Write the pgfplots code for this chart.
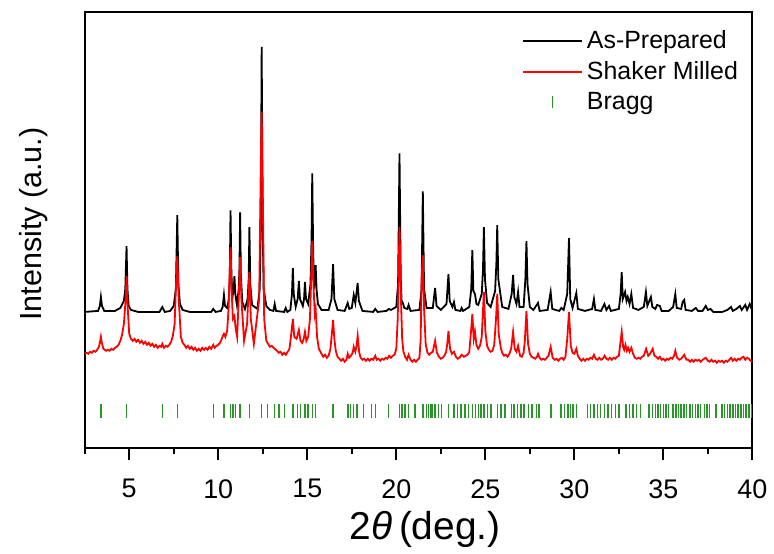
\documentclass[border=0pt]{standalone}
\usepackage{pgfplots}
\pgfplotsset{compat=1.18}
\usepackage{fontspec}
\setmainfont{Liberation Sans}
\definecolor{bragg}{RGB}{40,150,40}
\definecolor{milled}{RGB}{255,0,0}
\pgfplotsset{
    linelegend/.style={legend image code/.code={\draw[##1] (0pt,0pt)--(29.5pt,0pt);}},
    bragglegend/.style={legend image code/.code={\draw[bragg, line width=0.7pt] (14.75pt,-3pt)--(14.75pt,3pt);}},
}

\begin{document}
\begin{tikzpicture}
\begin{axis}[
    name=ax,
    scale only axis,
    width=335pt, height=219pt,
    xmin=2.5, xmax=40, ymin=0, ymax=438,
    clip=false,
    axis line style={line width=1pt},
    xtick={5,10,...,40}, minor x tick num=1,
    ytick=\empty,
    x tick style={draw=black, line width=0.9pt},
    xtick align=outside,
    xtick pos=left,
    tickwidth=6pt, subtickwidth=3pt,
    /pgf/number format/assume math mode=true,
    tick label style={font=\fontsize{13.5}{15}\selectfont},
    xticklabel style={yshift=-6pt},
    xlabel={2\textit{θ}\,(deg.)},
    every axis x label/.style={at={(axis description cs:0.51,-0.185)}, anchor=center,
        font=\fontsize{19.5}{22}\selectfont},
    ylabel={Intensity (a.u.)},
    every axis y label/.style={at={(axis description cs:-0.076,0.514)}, anchor=center, rotate=90,
        font=\fontsize{15.3}{18}\selectfont},
    legend style={at={(0.646,0.975)}, anchor=north west, draw=none, fill=none,
        font=\fontsize{12.5}{14}\selectfont, row sep=2pt,
        nodes={inner ysep=1.5pt}},
    legend cell align=left,
]
% As-prepared
\addplot[black, line width=0.9pt, linelegend] coordinates {
(2.5,137) (3.25,138) (3.35,143) (3.41,152) (3.47,143) (3.6,138)
(4.2,138) (4.5,141) (4.7,148) (4.78,160) (4.85,203) (4.9,160) (4.97,143) (5.1,139) (5.5,137)
(6.7,137) (6.86,142) (7.0,137) (7.3,138) (7.5,143) (7.62,160) (7.70,234) (7.76,165) (7.85,145) (8.0,139) (8.4,137)
(9.6,137) (9.72,140) (9.85,137) (10.15,138) (10.25,142) (10.32,154) (10.38,143) (10.5,141)
(10.6,150) (10.65,175) (10.69,239) (10.74,175) (10.8,152) (10.87,160) (10.91,173) (10.96,155) (11.05,144)
(11.15,160) (11.19,180) (11.23,237) (11.27,175) (11.35,147) (11.5,140)
(11.65,150) (11.71,170) (11.75,222) (11.8,165) (11.9,144) (12.2,140)
(12.33,160) (12.39,230) (12.44,403) (12.49,230) (12.55,160) (12.7,143) (12.9,139)
(13.1,138) (13.17,145) (13.25,138) (13.7,137) (13.79,141) (13.88,137)
(14.05,139) (14.14,155) (14.19,181) (14.24,155) (14.35,142) (14.46,150) (14.53,168) (14.59,150)
(14.75,143) (14.82,150) (14.87,167) (14.93,150) (15.05,145) (15.18,165) (15.24,210) (15.28,276)
(15.33,200) (15.38,160) (15.47,184) (15.52,160) (15.6,145) (15.8,139)
(16.2,139) (16.36,150) (16.45,185) (16.52,150) (16.7,139) (17.1,138) (17.27,146) (17.36,140)
(17.5,141) (17.61,154) (17.7,146) (17.83,166) (17.9,148) (18.1,138)
(18.7,137) (18.82,140) (18.95,137) (19.45,138) (19.57,140) (19.7,139) (20.0,142)
(20.1,165) (20.18,296) (20.25,170) (20.3,148) (20.37,146) (20.45,141) (20.62,140) (20.69,144) (20.8,138)
(21.3,139) (21.42,160) (21.49,258) (21.56,160) (21.7,141) (22.05,141) (22.18,161) (22.26,143) (22.5,139)
(22.82,145) (22.93,175) (23.0,148) (23.15,142) (23.24,147) (23.32,139) (23.6,138) (23.67,141) (23.75,138)
(24.1,142) (24.21,160) (24.27,199) (24.33,158) (24.42,155) (24.5,145) (24.6,144)
(24.8,155) (24.87,180) (24.92,222) (24.98,170) (25.1,146) (25.3,142)
(25.55,158) (25.62,185) (25.67,224) (25.73,170) (25.87,152) (25.95,142) (26.3,140)
(26.48,155) (26.56,174) (26.63,152) (26.75,145) (26.84,157) (26.92,142)
(27.15,142) (27.25,170) (27.31,208) (27.37,165) (27.5,142) (27.7,139) (27.96,146) (28.05,138)
(28.5,139) (28.67,157) (28.76,140) (29.15,138) (29.27,141) (29.4,139)
(29.6,155) (29.70,211) (29.77,150) (29.9,141) (30.11,156) (30.2,140) (30.6,138)
(31.0,140) (31.10,150) (31.18,139) (31.5,138) (31.69,145) (31.8,139) (31.95,143) (32.05,138)
(32.5,140) (32.6,155) (32.66,177) (32.72,150) (32.85,157) (32.93,148) (33.0,152) (33.1,145) (33.2,155) (33.3,141)
(33.6,139) (33.9,142) (34.02,157) (34.1,143) (34.3,152) (34.38,142) (34.55,140) (34.65,144) (34.8,143) (34.9,138)
(35.3,138) (35.55,142) (35.67,155) (35.75,141) (36.0,140) (36.08,147) (36.17,149) (36.25,139)
(36.6,138) (36.82,141) (36.95,138) (37.2,138) (37.38,143) (37.5,139) (37.65,140) (37.8,137)
(38.3,137) (38.6,139) (38.8,142) (38.9,138) (39.1,140) (39.3,143) (39.4,139) (39.6,144) (39.7,139) (39.85,145) (40.0,138)
};
\addlegendentry{As-Prepared}
% Shaker milled
\addplot[milled, line width=0.9pt, linelegend] coordinates {
(2.5,95) (2.6,96) (2.7,95) (2.8,97) (2.9,96) (3.0,98) (3.1,97) (3.2,99) (3.3,102) (3.36,107) (3.41,112)
(3.46,106) (3.55,100) (3.7,98) (3.8,99) (3.9,98) (4.0,100) (4.1,99) (4.2,101) (4.3,102) (4.4,104)
(4.5,108) (4.6,114) (4.7,125) (4.8,150) (4.85,173) (4.92,140) (5.0,115) (5.1,110) (5.2,108)
(5.3,110) (5.4,107) (5.5,109) (5.6,106) (5.7,108) (5.8,105) (5.9,107) (6.0,104) (6.1,106) (6.2,103)
(6.3,105) (6.4,102) (6.5,104) (6.6,101) (6.7,103) (6.8,102) (6.86,105) (6.95,101) (7.05,103) (7.15,102)
(7.25,104) (7.35,107) (7.45,113) (7.55,125) (7.62,160) (7.70,193) (7.78,150) (7.9,112) (8.0,106) (8.1,104)
(8.2,101) (8.3,103) (8.4,100) (8.5,102) (8.6,99) (8.7,101) (8.8,98) (8.9,100) (9.0,98) (9.1,101)
(9.2,99) (9.3,101) (9.4,99) (9.5,102) (9.6,100) (9.72,104) (9.8,101) (9.9,103) (10.0,104) (10.1,106)
(10.2,110) (10.26,113) (10.32,115) (10.4,112) (10.5,118) (10.58,140) (10.65,180) (10.69,202) (10.75,160)
(10.82,130) (10.91,133) (10.98,120) (11.06,112) (11.15,150) (11.23,192) (11.3,150) (11.45,108)
(11.62,125) (11.75,177) (11.83,130) (12.0,105) (12.3,150) (12.4,300) (12.44,338) (12.5,260) (12.58,130)
(12.7,108) (12.9,102) (13.0,103) (13.17,100) (13.3,98) (13.4,96) (13.5,97) (13.6,94) (13.7,96) (13.8,94)
(13.9,97) (14.0,100) (14.1,115) (14.19,130) (14.27,112) (14.4,110) (14.53,119) (14.62,108) (14.72,106)
(14.8,110) (14.87,117) (14.95,108) (15.05,112) (15.15,130) (15.22,170) (15.28,208) (15.36,160) (15.42,135)
(15.47,140) (15.55,112) (15.65,100) (15.8,95) (15.9,92) (16.0,94) (16.1,91) (16.2,93) (16.3,100)
(16.38,115) (16.45,129) (16.52,110) (16.6,98) (16.7,92) (16.8,90) (16.9,88) (17.0,90) (17.1,87) (17.2,89)
(17.27,95) (17.35,91) (17.45,93) (17.55,96) (17.61,102) (17.7,97) (17.77,103) (17.83,113) (17.92,96)
(18.0,91) (18.1,89) (18.2,90) (18.3,88) (18.4,90) (18.5,88) (18.6,90) (18.7,89) (18.82,93) (18.9,89)
(19.0,90) (19.1,88) (19.2,90) (19.3,89) (19.4,91) (19.5,90) (19.6,93) (19.7,91) (19.8,93) (19.9,94)
(20.0,100) (20.08,130) (20.18,222) (20.27,145) (20.33,110) (20.4,97) (20.5,92) (20.6,89) (20.69,94)
(20.8,89) (20.9,87) (21.0,89) (21.1,87) (21.2,89) (21.3,91) (21.37,110) (21.42,170) (21.49,194) (21.56,140)
(21.65,105) (21.75,96) (21.85,94) (21.95,96) (22.05,97) (22.18,108) (22.28,96) (22.4,92) (22.5,90)
(22.6,91) (22.7,93) (22.8,97) (22.87,106) (22.93,118) (23.02,100) (23.12,95) (23.24,97) (23.35,92)
(23.45,90) (23.55,91) (23.67,94) (23.8,92) (23.9,93) (24.0,94) (24.1,97) (24.2,118) (24.27,135) (24.35,110)
(24.42,117) (24.5,104) (24.6,100) (24.7,103) (24.8,112) (24.86,135) (24.92,157) (25.0,118) (25.1,103)
(25.2,99) (25.3,97) (25.4,98) (25.5,104) (25.6,130) (25.67,155) (25.75,115) (25.87,101) (25.95,96)
(26.05,93) (26.15,94) (26.25,92) (26.35,95) (26.45,100) (26.56,117) (26.65,100) (26.75,97) (26.84,103)
(26.95,93) (27.05,92) (27.15,96) (27.22,108) (27.31,138) (27.4,105) (27.5,95) (27.6,92) (27.7,91)
(27.8,90) (27.9,92) (27.96,95) (28.05,91) (28.15,89) (28.25,90) (28.35,89) (28.45,91) (28.55,93)
(28.67,102) (28.78,91) (28.9,89) (29.0,90) (29.1,88) (29.2,90) (29.3,91) (29.4,89) (29.5,92) (29.6,110)
(29.70,137) (29.8,103) (29.9,96) (30.0,95) (30.11,100) (30.2,93) (30.3,90) (30.4,88) (30.5,90) (30.6,88)
(30.7,90) (30.8,89) (30.9,91) (31.0,90) (31.1,94) (31.2,90) (31.3,89) (31.4,91) (31.5,89) (31.6,90)
(31.7,93) (31.8,90) (31.9,89) (32.0,91) (32.1,89) (32.2,91) (32.3,90) (32.4,92) (32.5,93) (32.58,105)
(32.66,117) (32.74,102) (32.8,99) (32.87,104) (32.95,98) (33.02,101) (33.1,97) (33.2,101) (33.3,95)
(33.4,91) (33.5,90) (33.6,91) (33.7,90) (33.8,92) (33.9,93) (34.03,100) (34.15,93) (34.25,95) (34.4,100)
(34.5,93) (34.6,92) (34.7,90) (34.8,92) (34.9,89) (35.0,90) (35.1,88) (35.2,90) (35.3,89) (35.4,91)
(35.5,90) (35.6,93) (35.67,98) (35.77,91) (35.9,89) (36.0,90) (36.17,94) (36.3,89) (36.4,89) (36.5,87)
(36.6,89) (36.7,87) (36.8,89) (36.9,88) (37.0,89) (37.1,87) (37.2,89) (37.38,91) (37.5,88) (37.6,87)
(37.7,89) (37.8,87) (37.9,88) (38.0,86) (38.1,88) (38.2,87) (38.3,88) (38.4,86) (38.5,88) (38.6,87)
(38.7,89) (38.8,91) (38.9,88) (39.0,90) (39.1,88) (39.2,90) (39.3,89) (39.4,91) (39.5,92) (39.6,89)
(39.7,91) (39.8,90) (39.9,88) (40.0,87)
};
\addlegendentry{Shaker Milled}
% Bragg positions
\addplot[bragg, only marks, mark=|, mark size=3.5pt, mark options={line width=0.7pt}, bragglegend] coordinates {
(3.41,38) (4.85,38) (6.86,38) (7.70,38) (9.72,38) (10.32,38) (10.69,38) (10.82,38) (10.96,38)
(11.23,38) (11.75,38) (12.44,38) (12.78,38) (13.17,38) (13.41,38) (13.73,38) (14.20,38) (14.44,38)
(14.63,38) (14.87,38) (15.05,38) (15.28,38) (15.47,38) (16.45,38) (17.28,38) (17.43,38) (17.61,38)
(17.80,38) (18.17,38) (18.60,38) (18.83,38) (19.57,38) (20.19,38) (20.32,38) (20.50,38) (20.69,38)
(21.06,38) (21.49,38) (21.71,38) (21.81,38) (21.94,38) (22.03,38) (22.18,38) (22.37,38) (22.55,38)
(22.93,38) (23.25,38) (23.43,38) (23.64,38) (23.86,38) (24.05,38) (24.27,38) (24.46,38) (24.61,38)
(24.76,38) (24.93,38) (25.13,38) (25.32,38) (25.69,38) (25.88,38) (26.10,38) (26.47,38) (26.62,38)
(26.81,38) (27.00,38) (27.18,38) (27.41,38) (27.63,38) (27.87,38) (28.02,38) (28.68,38) (29.24,38)
(29.46,38) (29.65,38) (29.80,38) (29.92,38) (30.11,38) (30.73,38) (30.92,38) (31.10,38) (31.29,38)
(31.47,38) (31.70,38) (31.90,38) (32.10,38) (32.30,38) (32.50,38) (32.90,38) (33.10,38) (33.30,38)
(33.50,38) (33.70,38) (34.20,38) (34.40,38) (34.55,38) (34.70,38) (34.85,38) (35.00,38) (35.15,38)
(35.30,38) (35.55,38) (35.70,38) (35.85,38) (36.00,38) (36.15,38) (36.30,38) (36.50,38) (36.65,38)
(36.80,38) (36.95,38) (37.10,38) (37.30,38) (37.45,38) (37.60,38) (37.95,38) (38.30,38) (38.45,38)
(38.60,38) (38.75,38) (38.90,38) (39.05,38) (39.20,38) (39.35,38) (39.50,38) (39.65,38) (39.80,38) (39.95,38)
};
\addlegendentry{Bragg}
% tick marks on the lower axis line
\pgfplotsinvokeforeach{5,10,15,20,25,30,35,40}{
    \draw[line width=0.9pt] (axis cs:#1,0) -- ([yshift=-6pt]axis cs:#1,0);}
\pgfplotsinvokeforeach{2.5,7.5,12.5,17.5,22.5,27.5,32.5,37.5}{
    \draw[line width=0.9pt] (axis cs:#1,0) -- ([yshift=-3pt]axis cs:#1,0);}
\end{axis}
\path ([xshift=-42.5pt,yshift=-51pt]ax.south west) rectangle ([xshift=9.5pt,yshift=6pt]ax.north east);
\end{tikzpicture}
\end{document}
